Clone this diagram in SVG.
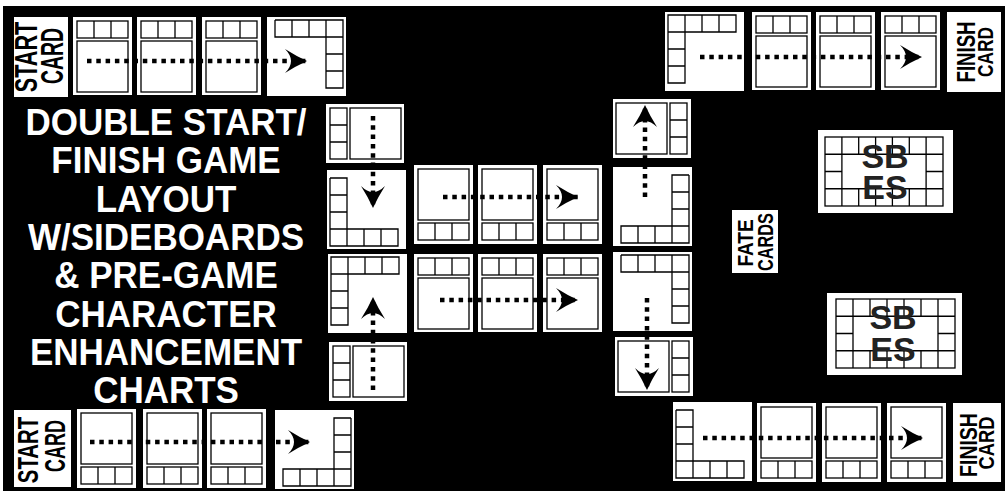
<svg xmlns="http://www.w3.org/2000/svg" xmlns:xlink="http://www.w3.org/1999/xlink" width="1005" height="491" viewBox="0 0 1005 491">
<style>
.card{fill:#fff}
.ln{fill:none;stroke:#000;stroke-width:1.3}
.dot{fill:none;stroke:#000;stroke-width:4.5;stroke-dasharray:4.5 4.8;marker-end:url(#arr)}
.lbl{font-family:"Liberation Sans",Arial,Helvetica,sans-serif;font-weight:bold;fill:#000;text-anchor:middle}
.title{font-family:"Liberation Sans",Arial,Helvetica,sans-serif;font-weight:bold;fill:#fff;font-size:35px;text-anchor:middle}
.sb{font-family:"Liberation Sans",Arial,Helvetica,sans-serif;font-weight:bold;fill:#222;font-size:34px;text-anchor:middle}
</style>
<defs>
<marker id="arr" markerUnits="userSpaceOnUse" viewBox="0 0 23 26" markerWidth="23" markerHeight="26" refX="22" refY="13" orient="auto">
<path d="M22 13 Q11 8 0 1 Q6 7 6 13 Q6 19 0 25 Q11 18 22 13Z" fill="#000"/>
</marker>
<g id="hT">
<rect class="card" width="59" height="78"/>
<rect class="ln" x="4" y="4" width="51" height="17"/>
<path class="ln" d="M21 4v17M38 4v17"/>
<rect class="ln" x="4" y="24" width="51" height="51"/>
</g>
<g id="hB">
<rect class="card" width="59" height="79"/>
<rect class="ln" x="4" y="4" width="51" height="51"/>
<rect class="ln" x="4" y="58" width="51" height="17"/>
<path class="ln" d="M21 58v17M38 58v17"/>
</g>
<g id="vL">
<rect class="card" width="78" height="59"/>
<rect class="ln" x="4" y="4" width="17" height="51"/>
<path class="ln" d="M4 21h17M4 38h17"/>
<rect class="ln" x="24" y="4" width="51" height="51"/>
</g>
<g id="vR">
<rect class="card" width="78" height="59"/>
<rect class="ln" x="3" y="4" width="51" height="51"/>
<rect class="ln" x="57" y="4" width="17" height="51"/>
<path class="ln" d="M57 21h17M57 38h17"/>
</g>
<g id="cTR">
<rect class="card" width="79" height="79"/>
<path class="ln" d="M8 3h68v68h-17v-68M8 3v17h68M25 3v17M42 3v17M59 37h17M59 54h17"/>
</g>
<g id="cTL">
<rect class="card" width="79" height="79"/>
<path class="ln" d="M3 3h68v17h-68zM3 20v51h17v-51M20 3v17M37 3v17M54 3v17M3 37h17M3 54h17"/>
</g>
<g id="cBL">
<rect class="card" width="79" height="79"/>
<path class="ln" d="M3 8v68h68v-17h-68M3 8h17v68M3 25h17M3 42h17M37 59v17M54 59v17"/>
</g>
<g id="cBR">
<rect class="card" width="79" height="79"/>
<path class="ln" d="M76 8v68h-68v-17h68M76 8h-17v68M59 25h17M59 42h17M42 59v17M25 59v17"/>
</g>
</defs>

<rect x="0" y="0" width="1005" height="491" fill="#fff"/>
<rect x="3" y="6" width="1002" height="485" fill="#000"/>

<g id="title">
<text class="title" transform="translate(166,135) scale(1,1.08)">DOUBLE START/</text>
<text class="title" transform="translate(166,173.3) scale(1,1.08)">FINISH GAME</text>
<text class="title" transform="translate(166,211.6) scale(1,1.08)">LAYOUT</text>
<text class="title" transform="translate(166,250) scale(1,1.08)">W/SIDEBOARDS</text>
<text class="title" transform="translate(166,288.3) scale(1,1.08)">&amp; PRE-GAME</text>
<text class="title" transform="translate(166,326.6) scale(1,1.08)">CHARACTER</text>
<text class="title" transform="translate(166,365) scale(1,1.08)">ENHANCEMENT</text>
<text class="title" transform="translate(166,403.3) scale(1,1.08)">CHARTS</text>
</g>

<g id="start-top">
<rect class="card" x="14" y="17" width="54" height="80"/>
<text class="lbl" font-size="21.6" transform="translate(37,57) rotate(-90) scale(1,1.42)">START</text>
<text class="lbl" font-size="19.4" transform="translate(63,56) rotate(-90) scale(1,1.6)">CARD</text>
</g>
<g id="a1"><use xlink:href="#hT" x="73" y="17"/></g>
<g id="a2"><use xlink:href="#hT" x="137" y="17"/></g>
<g id="a3"><use xlink:href="#hT" x="202" y="17"/></g>
<g id="a4"><use xlink:href="#cTR" x="267" y="17"/></g>

<g id="b1"><use xlink:href="#cTL" x="665" y="12"/></g>
<g id="b2"><use xlink:href="#hT" x="752" y="12"/></g>
<g id="b3"><use xlink:href="#hT" x="816" y="12"/></g>
<g id="b4"><use xlink:href="#hT" x="881" y="12"/></g>
<g id="finish-top">
<rect class="card" x="947" y="12" width="54" height="80"/>
<text class="lbl" font-size="18.6" transform="translate(975,52) rotate(-90) scale(1,1.35)">FINISH</text>
<text class="lbl" font-size="17.3" transform="translate(993,52) rotate(-90) scale(1,1.3)">CARD</text>
</g>

<g id="c1"><use xlink:href="#vL" x="326" y="104"/></g>
<g id="c2"><use xlink:href="#cBL" x="327" y="170"/></g>
<g id="c3"><use xlink:href="#hB" x="414" y="165"/></g>
<g id="c4"><use xlink:href="#hB" x="478" y="165"/></g>
<g id="c5"><use xlink:href="#hB" x="543" y="165"/></g>

<g id="d1"><use xlink:href="#vR" x="613" y="99"/></g>
<g id="d2"><use xlink:href="#cBR" x="613" y="167"/></g>

<g id="e1"><use xlink:href="#cTL" x="328" y="254"/></g>
<g id="e2"><use xlink:href="#vL" x="329" y="342"/></g>
<g id="e3"><use xlink:href="#hT" x="414" y="254"/></g>
<g id="e4"><use xlink:href="#hT" x="478" y="254"/></g>
<g id="e5"><use xlink:href="#hT" x="543" y="254"/></g>

<g id="f1"><use xlink:href="#cTR" x="613" y="252"/></g>
<g id="f2"><use xlink:href="#vR" x="615" y="337"/></g>

<g id="fate">
<rect class="card" x="732" y="210" width="46" height="63"/>
<text class="lbl" font-size="19" transform="translate(753,243) rotate(-90) scale(1,1.17)">FATE</text>
<text class="lbl" font-size="16.3" transform="translate(773,242) rotate(-90) scale(1,1.37)">CARDS</text>
</g>

<g id="sbes1">
<rect class="card" x="818" y="130" width="135" height="83"/>
<rect class="ln" x="825" y="137" width="118" height="69"/>
<path class="ln" d="M841.9 137v69M926.1 137v69M825 154.25h118M825 188.75h118M825 171.5h16.9M926.1 171.5h16.9M858.7 137v17.25M875.6 137v17.25M892.4 137v17.25M909.3 137v17.25M858.7 188.75v17.25M875.6 188.75v17.25M892.4 188.75v17.25M909.3 188.75v17.25"/>
<text class="sb" x="885" y="168">SB</text>
<text class="sb" x="885" y="199">ES</text>
</g>

<g id="sbes2">
<rect class="card" x="827" y="293" width="135" height="82"/>
<rect class="ln" x="836" y="299" width="119" height="69"/>
<path class="ln" d="M853 299v69M938 299v69M836 316.25h119M836 350.75h119M836 333.5h17M938 333.5h17M870 299v17.25M887 299v17.25M904 299v17.25M921 299v17.25M870 350.75v17.25M887 350.75v17.25M904 350.75v17.25M921 350.75v17.25"/>
<text class="sb" x="893" y="329">SB</text>
<text class="sb" x="893" y="361">ES</text>
</g>

<g id="start-bottom">
<rect class="card" x="14" y="410" width="57" height="77"/>
<text class="lbl" font-size="20.4" transform="translate(38,450) rotate(-90) scale(1,1.44)">START</text>
<text class="lbl" font-size="18" transform="translate(65,446) rotate(-90) scale(1,1.65)">CARD</text>
</g>
<g id="g1"><use xlink:href="#hB" x="77" y="409"/></g>
<g id="g2"><use xlink:href="#hB" x="143" y="409"/></g>
<g id="g3"><use xlink:href="#hB" x="207" y="409"/></g>
<g id="g4"><use xlink:href="#cBR" x="275" y="410"/></g>

<g id="h1"><use xlink:href="#cBL" x="673" y="402"/></g>
<g id="h2"><use xlink:href="#hB" x="757" y="403"/></g>
<g id="h3"><use xlink:href="#hB" x="822" y="403"/></g>
<g id="h4"><use xlink:href="#hB" x="887" y="403"/></g>
<g id="finish-bottom">
<rect class="card" x="953" y="403" width="48" height="79"/>
<text class="lbl" font-size="19.5" transform="translate(977,445) rotate(-90) scale(1,1.25)">FINISH</text>
<text class="lbl" font-size="18.3" transform="translate(994,443) rotate(-90) scale(1,1.2)">CARD</text>
</g>

<g id="connectors">
<line class="dot" x1="87" y1="61" x2="307" y2="61"/>
<line class="dot" x1="700" y1="57" x2="922" y2="57"/>
<line class="dot" x1="90" y1="442" x2="310" y2="442"/>
<line class="dot" x1="703" y1="438" x2="923" y2="438"/>
<line class="dot" x1="373" y1="116" x2="373" y2="208"/>
<line class="dot" x1="443" y1="197" x2="578" y2="197"/>
<line class="dot" x1="373" y1="390" x2="373" y2="297"/>
<line class="dot" x1="440" y1="300" x2="578" y2="300"/>
<line class="dot" x1="645" y1="197" x2="645" y2="105"/>
<line class="dot" x1="647" y1="298" x2="647" y2="390"/>
</g>
</svg>
